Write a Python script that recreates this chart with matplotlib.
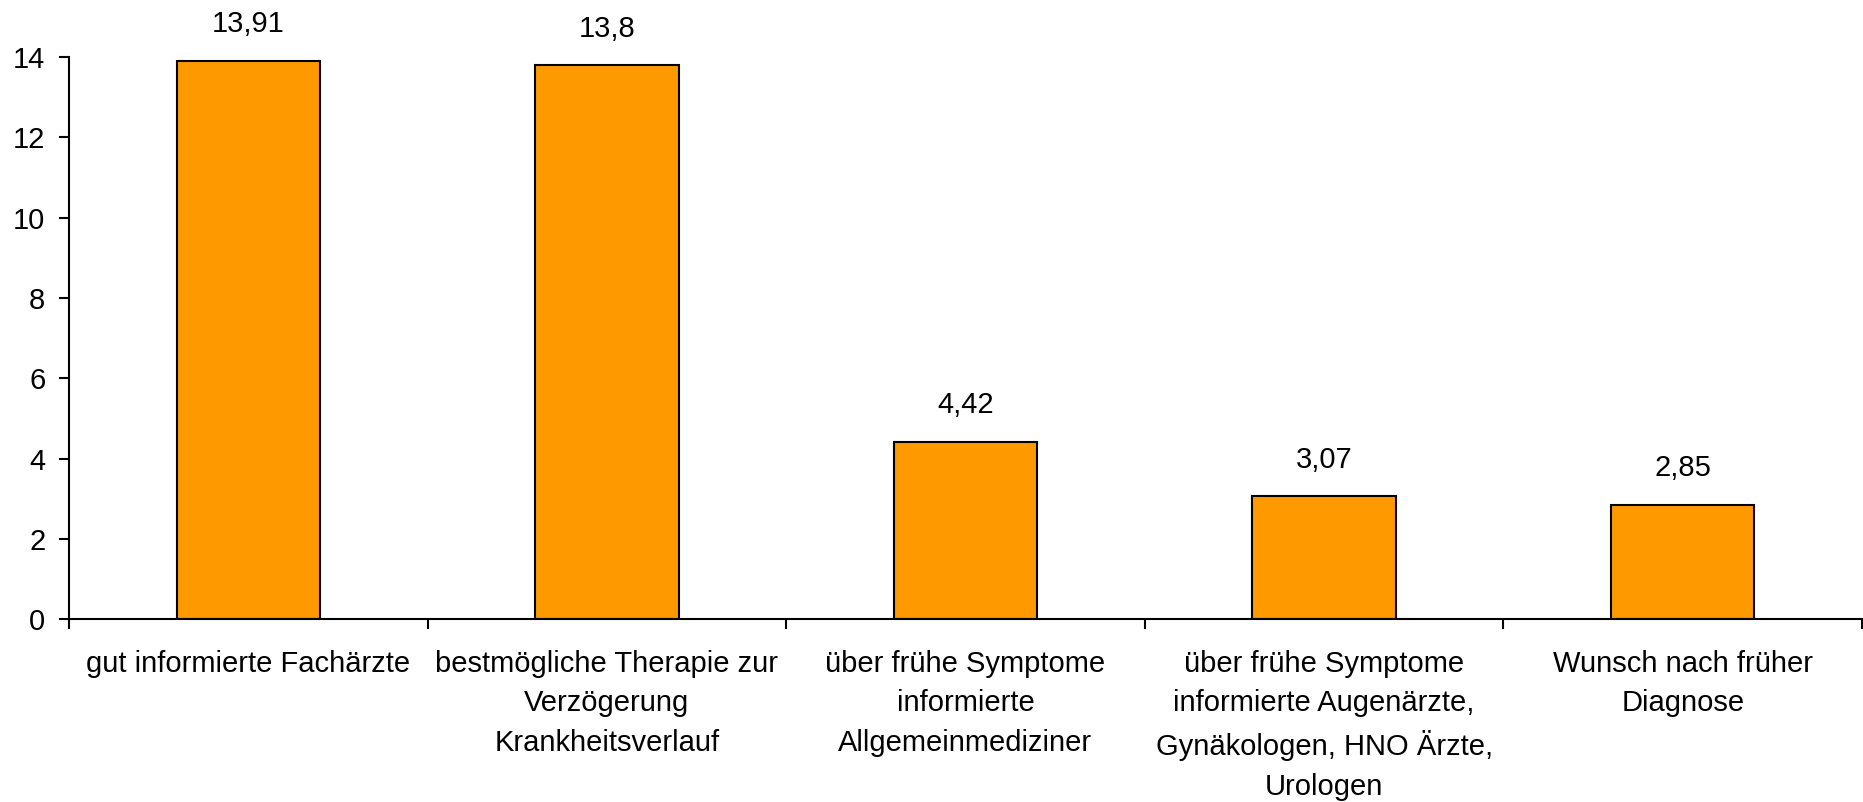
import matplotlib
matplotlib.use("Agg")
import matplotlib.pyplot as plt
from matplotlib.ticker import FixedLocator

categories = [
    "gut informierte Fachärzte",
    "bestmögliche Therapie zur\nVerzögerung\nKrankheitsverlauf",
    "über frühe Symptome\ninformierte\nAllgemeinmediziner",
    "über frühe Symptome\ninformierte Augenärzte,\nGynäkologen, HNO Ärzte,\nUrologen",
    "Wunsch nach früher\nDiagnose",
]
values = [13.91, 13.8, 4.42, 3.07, 2.85]
value_labels = ["13,91", "13,8", "4,42", "3,07", "2,85"]
yticks = [0, 2, 4, 6, 8, 10, 12, 14]

plt.rcParams['font.family'] = ['Liberation Sans', 'DejaVu Sans']
FS = 21

fig = plt.figure(figsize=(18.63, 8.02), dpi=100)
ax = fig.add_axes([0.037, 0.228, 0.9625, 0.701])

x = list(range(len(values)))
ax.bar(x, values, width=0.4, color="#FF9900", edgecolor="black", linewidth=1.5, zorder=2)
for xi, v, lab in zip(x, values, value_labels):
    ax.annotate(lab, (xi, v), xytext=(0, 16), textcoords="offset points",
                ha="center", va="bottom", fontsize=FS)

ax.set_xlim(-0.5, len(values) - 0.5)
ax.set_ylim(0, 14)
ax.set_yticks(yticks)
ax.set_yticklabels([str(t) for t in yticks], fontsize=FS)

ax.xaxis.set_major_locator(FixedLocator([i - 0.5 for i in range(len(values) + 1)]))
ax.xaxis.set_major_formatter(plt.NullFormatter())
ax.xaxis.set_minor_locator(FixedLocator(x))
ax.set_xticklabels(categories, minor=True, fontsize=FS, linespacing=1.52, va="top")
ax.tick_params(axis="x", which="minor", length=0, pad=22)
ax.tick_params(axis="x", which="major", length=7, width=1.5, direction="out")
ax.tick_params(axis="y", length=7, width=1.5, direction="out", pad=10)

for s in ["top", "right"]:
    ax.spines[s].set_visible(False)
for s in ["left", "bottom"]:
    ax.spines[s].set_linewidth(1.5)

fig.savefig("out.png", dpi=100)
